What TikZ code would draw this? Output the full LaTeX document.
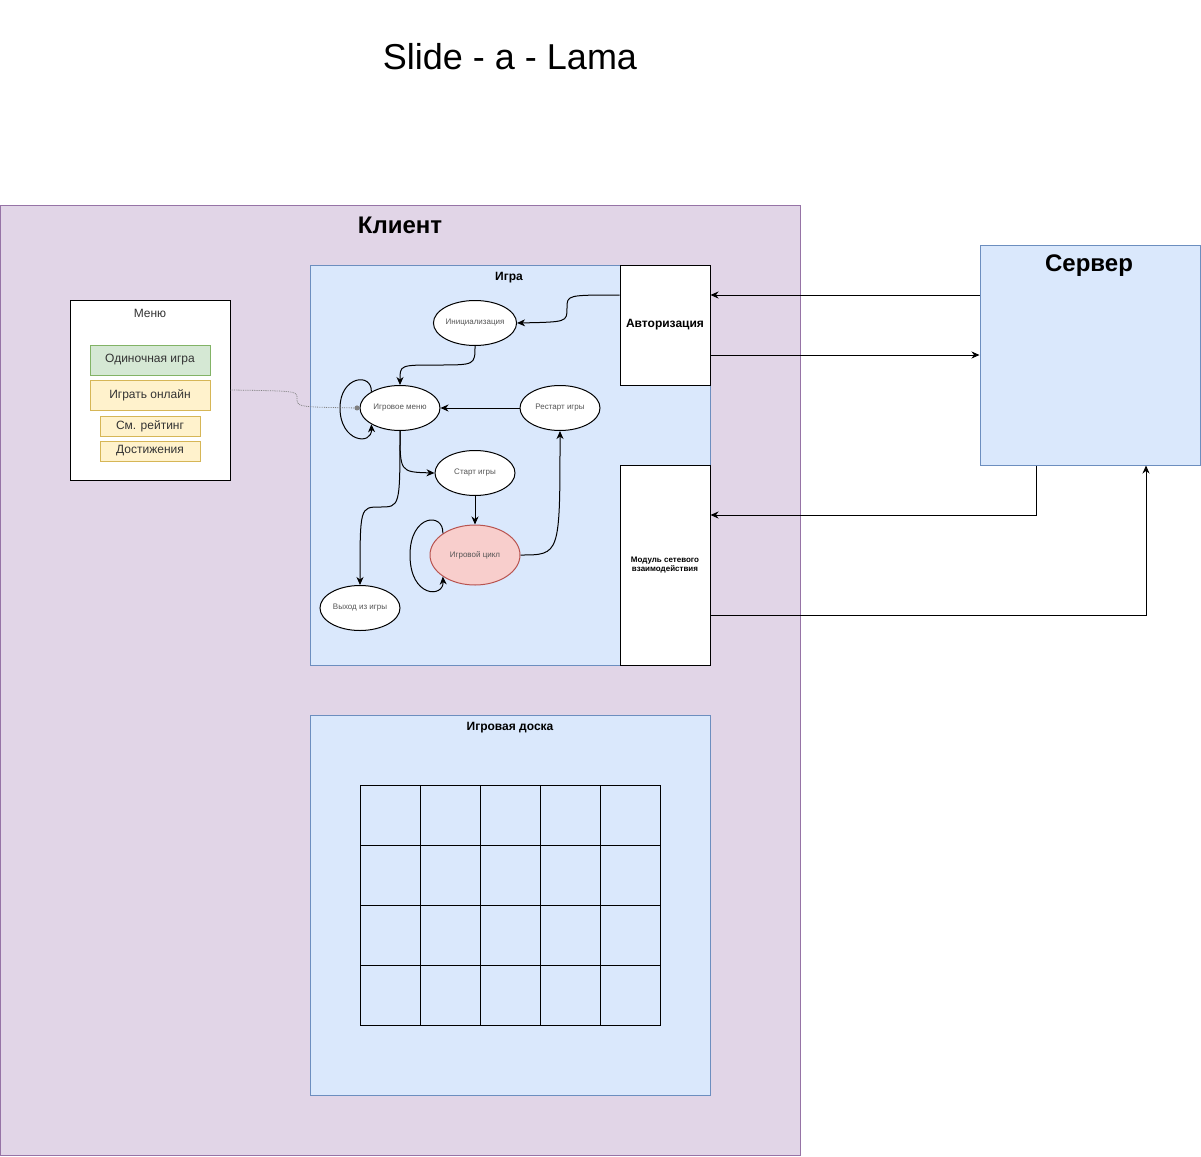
\documentclass[tikz,border=0pt]{standalone}
\usepackage{fontspec}
\setmainfont{Liberation Sans}
\usetikzlibrary{arrows.meta,positioning,calc,shapes.geometric}
\definecolor{clientFill}{HTML}{E1D5E7}
\definecolor{clientLine}{HTML}{9673A6}
\definecolor{blueFill}{HTML}{DAE8FC}
\definecolor{blueLine}{HTML}{6C8EBF}
\definecolor{greenFill}{HTML}{D5E8D4}
\definecolor{greenLine}{HTML}{82B366}
\definecolor{yellowFill}{HTML}{FFF2CC}
\definecolor{yellowLine}{HTML}{D6B656}
\definecolor{redFill}{HTML}{F8CECC}
\definecolor{redLine}{HTML}{B85450}
\definecolor{darkText}{HTML}{333333}
\definecolor{greyText}{HTML}{555555}

\begin{document}
\begin{tikzpicture}[
        x=1pt, y=-1pt,
        box/.style={draw=black, fill=white, line width=1pt, inner sep=0pt},
        group/.style={draw=blueLine, fill=blueFill, line width=1pt, inner sep=0pt},
        state/.style={ellipse, draw=black, fill=white, line width=1pt,
            minimum width=80pt, minimum height=45pt, inner sep=0pt,
            text=greyText, font=\fontsize{8}{9}\selectfont},
        item/.style={draw=yellowLine, fill=yellowFill, line width=1pt,
            minimum width=120pt, minimum height=30pt, inner sep=0pt,
            text=darkText, font=\fontsize{12}{14}\selectfont},
        cell/.style={draw=black, line width=1pt, minimum size=60pt, inner sep=0pt},
        title/.style={font=\bfseries\fontsize{12}{14}\selectfont},
        big/.style={font=\bfseries\fontsize{24}{28}\selectfont},
        conn/.style={line width=1pt, ->,
            >={Stealth[length=8pt,width=7pt,inset=2.5pt]}},
        hint/.style={line width=0.8pt, densely dotted, color=gray,
            -{Circle[length=5pt]}},
    ]
    \useasboundingbox (0,0) rectangle (1201,1156);

    % title
    \node[font=\fontsize{36}{40}\selectfont] at (510,57) (slide) {Slide - a - Lama};

    % client
    \node[draw=clientLine, fill=clientFill, line width=1pt, inner sep=0pt,
        minimum width=800pt, minimum height=950pt] at (400,680) (client) {};
    \node[big] at (400,225) (clientT) {Клиент};

    % server
    \node[group, minimum width=220pt, minimum height=220pt] at (1090,355) (server) {};
    \node[big] at (1089,266) (serverT) {Сервер};

    % menu
    \node[box, minimum width=160pt, minimum height=180pt] at (150,390) (menu) {};
    \node[text=darkText, font=\fontsize{12}{14}\selectfont] at (150,313) (menuT) {Меню};
    \node[item, draw=greenLine, fill=greenFill] at (150,360) (single) {Одиночная игра};
    \node[item] at (150,395) (online) {Играть онлайн};
    \node[item, minimum width=100pt, minimum height=20pt] at (150,426) (rating) {См. рейтинг};
    \node[item, minimum width=100pt, minimum height=20pt] at (150,451) (awards) {Достижения};

    % game
    \node[group, minimum width=400pt, minimum height=400pt] at (510,465) (game) {};
    \node[title] at (509,278) (gameT) {Игра};
    \node[box, minimum width=90pt, minimum height=120pt,
        font=\bfseries\fontsize{12}{14}\selectfont] at (665,325) (auth) {Авторизация};
    \node[box, minimum width=90pt, minimum height=200pt, align=center,
        font=\bfseries\fontsize{8}{9}\selectfont] at (665,565) (net)
        {Модуль сетевого\\взаимодействия};

    \node[state] at (475,323) (init) {Инициализация};
    \node[state] at (400,408) (gmenu) {Игровое меню};
    \node[state] at (560,408) (restart) {Рестарт игры};
    \node[state] at (475,473) (start) {Старт игры};
    \node[state, draw=redLine, fill=redFill, minimum width=90pt,
        minimum height=60pt] at (475,555) (cycle) {Игровой цикл};
    \node[state] at (360,608) (quit) {Выход из игры};

    % board
    \node[group, minimum width=400pt, minimum height=380pt] at (510,905) (board) {};
    \node[title] at (510,728) (boardT) {Игровая доска};
    \foreach \c in {0,...,4}
        \foreach \r in {0,...,3}
            \node[cell] at (390+60*\c,815+60*\r) (cell\c\r) {};

    % game flow
    \draw[conn] (auth.west |- 0,295) .. controls (567,295) .. (567,308)
        .. controls (567,322) .. (init.east);
    \draw[conn] (init.south) .. controls (475,365) .. (437,365)
        .. controls (400,365) .. (gmenu.north);
    \draw[conn] (gmenu.north west) .. controls (372,372) and (340,376) ..
        (340,408) .. controls (340,442) and (372,446) .. (gmenu.south west);
    \draw[conn] (restart.west) -- (gmenu.east);
    \draw[conn] (gmenu.south) .. controls (400,472) .. (start.west);
    \draw[conn] (gmenu.south) .. controls (400,507) .. (380,507)
        .. controls (360,507) .. (quit.north);
    \draw[conn] (start.south) -- (cycle.north);
    \draw[conn] (cycle.north west) .. controls (444,512) and (410,514) ..
        (410,555) .. controls (410,598) and (444,598) .. (cycle.south west);
    \draw[conn] (cycle.east) .. controls (560,555) .. (restart.south);
    \draw[hint] (menu.east) .. controls (297,391) .. (297,398)
        .. controls (297,407) .. (gmenu.west);

    % client - server
    \draw[conn] (server.west |- 0,295) -- (auth.east |- 0,295);
    \draw[conn] (auth.east |- 0,355) -- (server.west |- 0,355);
    \draw[conn] ([xshift=-54pt]server.south) |- ([yshift=50pt]net.east);
    \draw[conn] ([yshift=-50pt]net.east) -| ([xshift=56pt]server.south);
\end{tikzpicture}
\end{document}
